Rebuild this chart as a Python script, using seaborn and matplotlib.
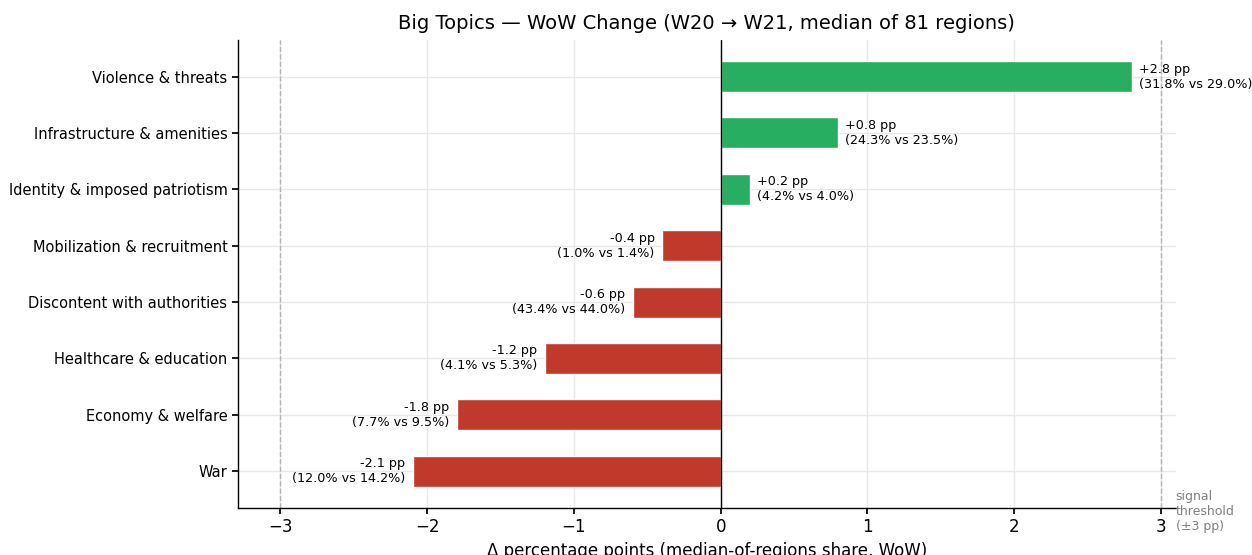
import matplotlib
matplotlib.use("Agg")
import matplotlib.pyplot as plt
import seaborn as sns
import pandas as pd

topics = ["Violence & threats", "Infrastructure & amenities", "Identity & imposed patriotism",
          "Mobilization & recruitment", "Discontent with authorities", "Healthcare & education",
          "Economy & welfare", "War"]
share_w21 = [31.8, 24.3, 4.2, 1.0, 43.4, 4.1, 7.7, 12.0]
share_w20 = [29.0, 23.5, 4.0, 1.4, 44.0, 5.3, 9.5, 14.2]
delta = [2.8, 0.8, 0.2, -0.4, -0.6, -1.2, -1.8, -2.1]

df = pd.DataFrame({"topic": topics, "delta": delta, "w21": share_w21, "w20": share_w20})
df["sign"] = ["up" if d > 0 else "down" for d in delta]

sns.set_theme(style="white")
plt.rcParams['font.family'] = ['DejaVu Sans']
for k in ("text.color", "axes.labelcolor", "xtick.color", "ytick.color"):
    plt.rcParams[k] = "black"

fig = plt.figure(figsize=(12.52, 5.55), dpi=100)
ax = fig.add_axes([0.190, 0.085, 0.749, 0.843])

sns.barplot(data=df, y="topic", x="delta", hue="sign", order=topics,
            palette={"up": "#27ae60", "down": "#c0392b"}, width=0.55,
            orient="h", dodge=False, legend=False, ax=ax, saturation=1)

ax.grid(True, axis="both", color="#e8e8e8", linewidth=1)
ax.set_axisbelow(True)

ax.axvline(0, color="black", linewidth=1)
for t in (-3, 3):
    ax.axvline(t, color="#b5b5b5", linestyle="--", linewidth=1)

for i, (d, a, b) in enumerate(zip(delta, share_w21, share_w20)):
    label = f"{d:+.1f} pp\n({a:.1f}% vs {b:.1f}%)"
    if d > 0:
        ax.text(d + 0.05, i, label, ha="left", va="center", fontsize=9.2)
    else:
        ax.text(d - 0.05, i, label, ha="right", va="center", fontsize=9.2)

ax.text(3.1, 7.33, "signal\nthreshold\n(±3 pp)", ha="left", va="top", fontsize=9,
        color="gray", clip_on=False)

ax.set_xlim(-3.29, 3.10)
ax.set_ylim(7.65, -0.65)
ax.set_xticks([-3, -2, -1, 0, 1, 2, 3])
ax.set_xticklabels(["\u22123", "\u22122", "\u22121", "0", "1", "2", "3"])
ax.tick_params(axis="x", labelsize=12, length=4, bottom=True)
ax.tick_params(axis="y", labelsize=10.5, length=4, left=True)
ax.set_ylabel("")
ax.set_xlabel("Δ percentage points (median-of-regions share, WoW)", fontsize=12)
ax.set_title("Big Topics — WoW Change (W20 → W21, median of 81 regions)", fontsize=14, pad=8)

for s in ("top", "right"):
    ax.spines[s].set_visible(False)
for s in ("left", "bottom"):
    ax.spines[s].set_color("black")
    ax.spines[s].set_linewidth(1)

fig.savefig("out.png", dpi=100)
